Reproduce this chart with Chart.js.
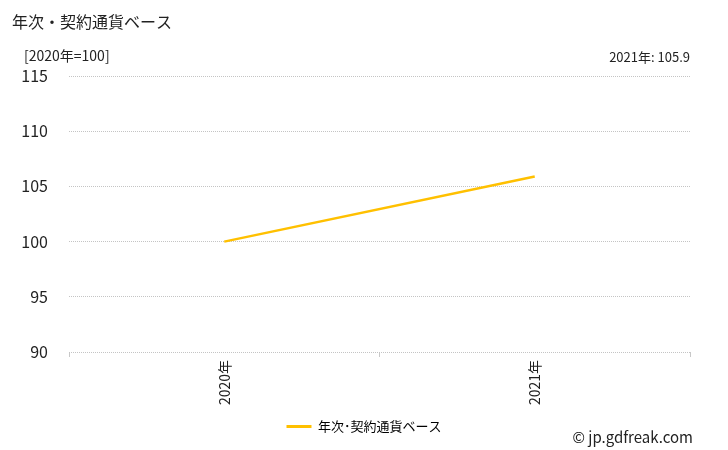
<!DOCTYPE html>
<html>
<head>
<meta charset="utf-8">
<script src="https://cdn.jsdelivr.net/npm/chart.js@4.4.0/dist/chart.umd.min.js"></script>
<style>
  html, body { margin: 0; padding: 0; background: #fff; }
  #wrap { width: 728px; height: 450px; position: relative; }
</style>
</head>
<body>
<div id="wrap"><canvas id="chart" width="728" height="450"></canvas></div>
<script>
const years = ['2020年', '2021年']
const indexValues = [100, 105.9]
const yTicks = [90, 95, 100, 105, 110, 115]
const seriesName = '年次・契約通貨ベース'
const legendName = '年次･契約通貨ベース'

const FONT = "'Noto Sans CJK JP', 'Noto Sans', sans-serif"

// titles and notes drawn around the plot
const textPlugin = {
    id: 'texts',
    afterDraw(chart) {
        const ctx = chart.ctx
        ctx.save()
        ctx.fillStyle = '#222'
        ctx.textBaseline = 'middle'
        ctx.font = '16px ' + FONT
        ctx.textAlign = 'left'
        ctx.fillText(seriesName, 12, 22)
        ctx.font = '14px ' + FONT
        ctx.fillText('[2020年=100]', 24, 56)
        ctx.font = '13px ' + FONT
        ctx.textAlign = 'right'
        ctx.fillText(years[years.length - 1] + ': ' + indexValues[indexValues.length - 1], 690, 57)
        ctx.font = '15px ' + FONT
        ctx.fillText('© jp.gdfreak.com', 693, 437)
        ctx.restore()
    }
}

new Chart(document.getElementById('chart'), {
    type: 'line',
    data: {
        labels: years,
        datasets: [{
            label: seriesName,
            data: indexValues,
            borderColor: '#FFC000',
            backgroundColor: '#FFC000',
            borderWidth: 2.5,
            pointRadius: 0,
            tension: 0,
            yAxisID: 'y'
        }]
    },
    options: {
        responsive: false,
        animation: false,
        layout: { padding: { left: 0, right: 0, top: 76, bottom: 7 } },
        plugins: {
            legend: {
                position: 'bottom',
                labels: {
                    boxWidth: 25,
                    boxHeight: 0,
                    padding: 8,
                    color: '#222',
                    font: { size: 13, family: FONT },
                    generateLabels(chart) {
                        return [{
                            text: legendName,
                            strokeStyle: '#FFC000',
                            fillStyle: '#FFC000',
                            lineWidth: 3,
                            datasetIndex: 0
                        }]
                    }
                }
            },
            tooltip: { enabled: false }
        },
        scales: {
            x: {
                offset: true,
                grid: { drawOnChartArea: false, tickLength: 5, color: '#c8c8c8', offset: true },
                border: { display: false },
                ticks: {
                    maxRotation: 90, minRotation: 90,
                    color: '#222',
                    font: { size: 14, family: FONT }
                },
                afterFit(scale) { scale.height = 60 }
            },
            y: {
                min: yTicks[0],
                max: yTicks[yTicks.length - 1],
                afterBuildTicks(scale) { scale.ticks = yTicks.map(v => ({ value: v })) },
                grid: { color: '#c4c4c4', drawTicks: false },
                border: { display: false, dash: [1, 1] },
                ticks: {
                    padding: 21,
                    color: '#222',
                    font: { size: 16, family: FONT }
                },
                afterFit(scale) { scale.width = 69 }
            },
            // empty right-hand axis, only keeps room right of the plot
            yRight: {
                position: 'right',
                min: yTicks[0],
                max: yTicks[yTicks.length - 1],
                grid: { drawOnChartArea: false, drawTicks: false },
                border: { display: false },
                ticks: { display: false },
                afterFit(scale) { scale.width = 38 }
            }
        }
    },
    plugins: [textPlugin]
})
</script>
</body>
</html>
